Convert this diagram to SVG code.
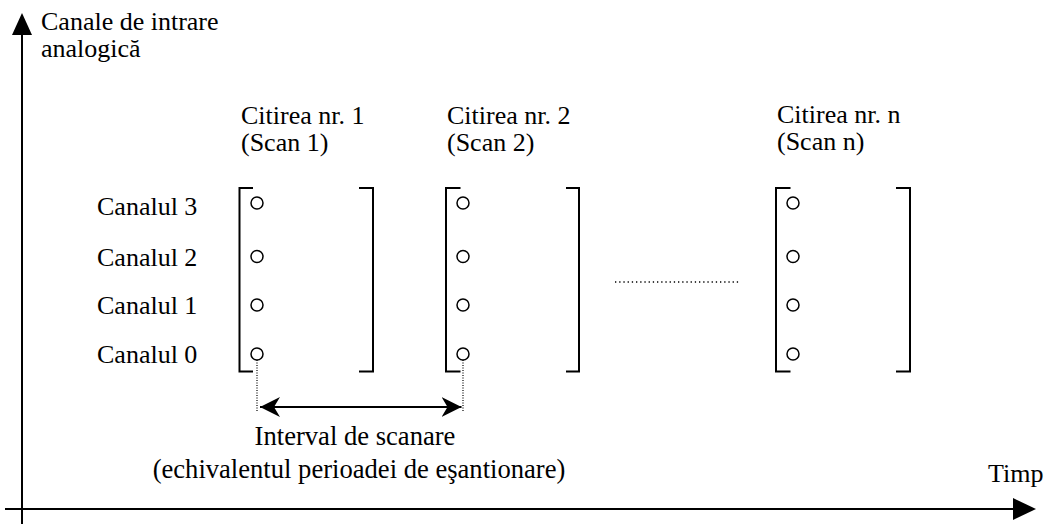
<svg xmlns="http://www.w3.org/2000/svg" width="1044" height="524" viewBox="0 0 1044 524">
  <style>
    text { font-family: "Liberation Serif", "Times New Roman", serif; font-size: 26px; fill: #000; }
    .wide { font-size: 26.6px; }
    .axis { stroke: #000; stroke-width: 2; fill: none; }
    .bracket { stroke: #000; stroke-width: 2; fill: none; }
    .dot { stroke: #000; stroke-width: 1.5; fill: #fff; }
    .dotted { stroke: #000; stroke-width: 1.2; stroke-dasharray: 1 1.5; fill: none; }
    .gap { stroke: #000; stroke-width: 1.3; stroke-dasharray: 1.3 2.9; fill: none; }
    .span { stroke: #000; stroke-width: 2; fill: none; }
  </style>
  <defs>
    <marker id="barb" viewBox="0 0 20 20" refX="20" refY="10" markerWidth="20" markerHeight="20" markerUnits="userSpaceOnUse" orient="auto-start-reverse">
      <path d="M20,10 L0,0 L6,10 L0,20 Z" fill="#000"/>
    </marker>
  </defs>

  <!-- axes -->
  <g id="axes">
    <line class="axis" x1="22" y1="34" x2="22" y2="524"/>
    <polygon points="22,13 12,35 32,35" fill="#000"/>
    <line class="axis" x1="5" y1="509" x2="1014" y2="509"/>
    <polygon points="1036,509 1013,498 1013,520" fill="#000"/>
    <text x="988" y="482">Timp</text>
    <text x="41" y="30">Canale de intrare</text>
    <text x="41" y="57">analogică</text>
  </g>

  <!-- channel labels -->
  <g id="channels">
    <text x="97" y="215">Canalul 3</text>
    <text x="97" y="266">Canalul 2</text>
    <text x="97" y="314">Canalul 1</text>
    <text x="97" y="363">Canalul 0</text>
  </g>

  <!-- scan 1 -->
  <g id="scan1">
    <text x="241" y="124">Citirea nr. 1</text>
    <text x="241" y="151">(Scan 1)</text>
    <path class="bracket" d="M253,188 H239.5 V371.5 H253"/>
    <path class="bracket" d="M359,188 H373 V371.5 H359"/>
    <circle class="dot" cx="257" cy="203" r="6"/>
    <circle class="dot" cx="257" cy="256.5" r="6"/>
    <circle class="dot" cx="257" cy="305" r="6"/>
    <circle class="dot" cx="257" cy="354" r="6"/>
  </g>

  <!-- scan 2 -->
  <g id="scan2">
    <text x="447" y="124">Citirea nr. 2</text>
    <text x="447" y="151">(Scan 2)</text>
    <path class="bracket" d="M460.5,188 H446 V371.5 H460.5"/>
    <path class="bracket" d="M566,188 H579 V371.5 H566"/>
    <circle class="dot" cx="463" cy="203" r="6"/>
    <circle class="dot" cx="463" cy="256.5" r="6"/>
    <circle class="dot" cx="463" cy="305" r="6"/>
    <circle class="dot" cx="463" cy="354" r="6"/>
  </g>

  <!-- scan n -->
  <g id="scanN">
    <text x="777" y="123">Citirea nr. n</text>
    <text x="777" y="150">(Scan n)</text>
    <path class="bracket" d="M790.5,188 H776 V371.5 H790.5"/>
    <path class="bracket" d="M896,188 H910 V371.5 H896"/>
    <circle class="dot" cx="793" cy="203" r="6"/>
    <circle class="dot" cx="793" cy="256.5" r="6"/>
    <circle class="dot" cx="793" cy="305" r="6"/>
    <circle class="dot" cx="793" cy="354" r="6"/>
  </g>

  <!-- scan interval -->
  <g id="interval">
    <text class="wide" x="355" y="445" text-anchor="middle">Interval de scanare</text>
    <text class="wide" x="359" y="478" text-anchor="middle">(echivalentul perioadei de eşantionare)</text>
  </g>

  <!-- connectors -->
  <g id="connectors">
    <line class="dotted" x1="257" y1="360" x2="257" y2="411"/>
    <line class="dotted" x1="463" y1="360" x2="463" y2="411"/>
    <line class="span" x1="260" y1="407" x2="461.5" y2="407" marker-start="url(#barb)" marker-end="url(#barb)"/>
    <line class="gap" x1="615" y1="282" x2="740" y2="282"/>
  </g>
</svg>
